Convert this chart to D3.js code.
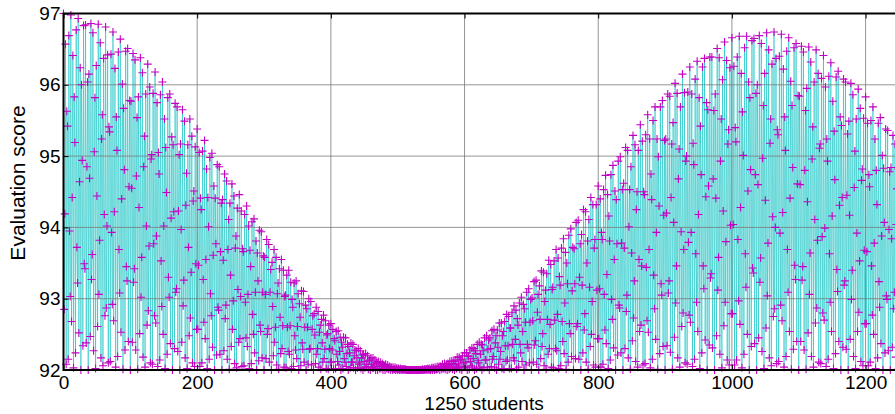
<!DOCTYPE html>
<html>
<head>
<meta charset="utf-8">
<script src="https://cdn.jsdelivr.net/npm/d3@7"></script>
<style>
  body { margin: 0; background: #fff; }
  text { font-family: "Liberation Sans", Arial, sans-serif; }
</style>
</head>
<body>
<svg id="chart" width="895" height="414"></svg>
<script>
// evaluation score of each of the 1250 students (rows of 10)
const scores = [
  97.00,92.85,94.19,96.57,92.08,95.63,95.42,92.15,96.69,93.95,
  93.03,96.98,92.68,94.42,96.41,92.03,95.83,95.19,92.24,96.77,
  93.72,93.22,96.93,92.52,94.64,96.24,92.00,96.00,94.94,92.34,
  96.83,93.49,93.42,96.84,92.38,94.85,96.04,92.00,96.15,94.69,
  92.47,96.86,93.27,93.62,96.73,92.27,95.06,95.82,92.02,96.27,
  94.44,92.61,96.85,93.06,93.82,96.59,92.17,95.24,95.58,92.06,
  96.37,94.18,92.76,96.81,92.87,94.02,96.42,92.10,95.41,95.34,
  92.12,96.43,93.93,92.92,96.74,92.69,94.22,96.23,92.04,95.55,
  95.08,92.19,96.46,93.69,93.08,96.64,92.53,94.40,96.01,92.01,
  95.67,94.81,92.28,96.47,93.45,93.25,96.51,92.40,94.57,95.78,
  92.00,95.77,94.55,92.39,96.44,93.23,93.42,96.35,92.28,94.72,
  95.54,92.01,95.83,94.28,92.51,96.38,93.02,93.58,96.17,92.18,
  94.85,95.28,92.04,95.87,94.02,92.63,96.29,92.83,93.74,95.97,
  92.10,94.96,95.02,92.08,95.88,93.77,92.76,96.18,92.66,93.88,
  95.75,92.05,95.05,94.75,92.14,95.86,93.53,92.89,96.04,92.50,
  94.02,95.52,92.02,95.12,94.49,92.22,95.82,93.30,93.02,95.87,
  92.37,94.13,95.27,92.00,95.16,94.22,92.30,95.74,93.09,93.14,
  95.69,92.26,94.23,95.02,92.00,95.17,93.97,92.39,95.65,92.90,
  93.26,95.49,92.17,94.31,94.76,92.02,95.16,93.72,92.48,95.52,
  92.73,93.37,95.28,92.10,94.37,94.51,92.05,95.13,93.49,92.57,
  95.38,92.57,93.47,95.05,92.05,94.41,94.25,92.10,95.07,93.27,
  92.67,95.22,92.44,93.55,94.82,92.02,94.42,94.01,92.15,94.98,
  93.07,92.76,95.04,92.32,93.61,94.58,92.00,94.41,93.77,92.21,
  94.88,92.88,92.84,94.85,92.22,93.66,94.34,92.00,94.39,93.54,
  92.27,94.75,92.72,92.91,94.65,92.15,93.69,94.11,92.01,94.34,
  93.33,92.33,94.61,92.57,92.97,94.44,92.09,93.71,93.88,92.03,
  94.27,93.13,92.39,94.46,92.44,93.03,94.23,92.05,93.70,93.66,
  92.06,94.18,92.95,92.45,94.30,92.33,93.06,94.02,92.02,93.68,
  93.45,92.09,94.08,92.78,92.50,94.12,92.24,93.09,93.81,92.00,
  93.64,93.25,92.13,93.96,92.63,92.54,93.94,92.17,93.09,93.60,
  92.00,93.58,93.06,92.16,93.83,92.50,92.58,93.76,92.11,93.09,
  93.41,92.00,93.51,92.89,92.20,93.69,92.39,92.60,93.58,92.07,
  93.07,93.22,92.01,93.42,92.74,92.23,93.55,92.30,92.62,93.40,
  92.04,93.03,93.05,92.03,93.33,92.60,92.26,93.40,92.22,92.62,
  93.23,92.02,92.99,92.88,92.05,93.22,92.48,92.28,93.25,92.16,
  92.61,93.07,92.00,92.93,92.74,92.06,93.11,92.38,92.29,93.10,
  92.11,92.60,92.91,92.00,92.86,92.60,92.08,93.00,92.29,92.30,
  92.96,92.07,92.57,92.76,92.00,92.79,92.49,92.09,92.88,92.22,
  92.30,92.82,92.04,92.53,92.63,92.01,92.71,92.38,92.11,92.77,
  92.16,92.29,92.69,92.02,92.49,92.51,92.01,92.63,92.30,92.11,
  92.65,92.11,92.28,92.57,92.01,92.44,92.41,92.02,92.54,92.22,
  92.12,92.55,92.07,92.26,92.46,92.00,92.39,92.32,92.02,92.46,
  92.16,92.11,92.45,92.05,92.23,92.36,92.00,92.33,92.24,92.03,
  92.38,92.11,92.11,92.36,92.03,92.20,92.28,92.00,92.27,92.17,
  92.03,92.30,92.08,92.10,92.27,92.02,92.17,92.21,92.00,92.22,
  92.12,92.03,92.23,92.05,92.08,92.20,92.01,92.13,92.14,92.00,
  92.17,92.08,92.03,92.17,92.03,92.07,92.14,92.00,92.10,92.10,
  92.00,92.12,92.05,92.02,92.11,92.02,92.05,92.09,92.00,92.07,
  92.06,92.00,92.08,92.03,92.02,92.07,92.01,92.03,92.05,92.00,
  92.04,92.03,92.00,92.04,92.01,92.01,92.04,92.00,92.02,92.02,
  92.00,92.02,92.01,92.00,92.02,92.00,92.01,92.01,92.00,92.01,
  92.01,92.00,92.01,92.00,92.00,92.00,92.00,92.00,92.00,92.00,
  92.00,92.00,92.00,92.00,92.00,92.00,92.00,92.00,92.00,92.00,
  92.00,92.00,92.00,92.00,92.00,92.00,92.00,92.01,92.00,92.00,
  92.01,92.00,92.01,92.01,92.00,92.02,92.01,92.00,92.02,92.00,
  92.01,92.03,92.00,92.03,92.02,92.00,92.04,92.01,92.01,92.05,
  92.01,92.03,92.05,92.00,92.05,92.04,92.01,92.08,92.02,92.03,
  92.09,92.01,92.06,92.08,92.00,92.09,92.06,92.01,92.12,92.03,
  92.05,92.13,92.01,92.09,92.12,92.00,92.14,92.08,92.02,92.18,
  92.04,92.07,92.18,92.01,92.14,92.15,92.00,92.20,92.10,92.04,
  92.24,92.04,92.11,92.24,92.00,92.20,92.19,92.01,92.28,92.12,
  92.06,92.31,92.04,92.16,92.30,92.00,92.27,92.23,92.02,92.36,
  92.13,92.10,92.39,92.04,92.22,92.36,92.00,92.35,92.27,92.03,
  92.45,92.14,92.14,92.48,92.04,92.29,92.42,92.00,92.45,92.30,
  92.05,92.55,92.15,92.19,92.57,92.03,92.38,92.48,92.00,92.56,
  92.32,92.08,92.66,92.15,92.26,92.66,92.02,92.48,92.54,92.01,
  92.68,92.34,92.12,92.78,92.14,92.34,92.75,92.02,92.59,92.59,
  92.02,92.81,92.36,92.17,92.90,92.13,92.43,92.84,92.01,92.72,
  92.63,92.04,92.94,92.36,92.24,93.02,92.12,92.54,92.92,92.00,
  92.86,92.67,92.07,93.09,92.36,92.31,93.14,92.10,92.67,92.99,
  92.00,93.01,92.69,92.11,93.24,92.35,92.41,93.26,92.08,92.81,
  93.06,92.00,93.18,92.71,92.16,93.39,92.33,92.51,93.37,92.06,
  92.96,93.12,92.01,93.35,92.71,92.22,93.54,92.30,92.64,93.48,
  92.04,93.13,93.16,92.03,93.53,92.70,92.30,93.69,92.27,92.78,
  93.57,92.02,93.31,93.19,92.06,93.71,92.68,92.40,93.84,92.23,
  92.94,93.65,92.01,93.50,93.21,92.11,93.89,92.65,92.51,93.98,
  92.19,93.11,93.72,92.00,93.70,93.21,92.16,94.07,92.61,92.65,
  94.10,92.15,93.30,93.77,92.00,93.90,93.19,92.24,94.25,92.56,
  92.79,94.22,92.11,93.50,93.81,92.01,94.11,93.16,92.33,94.42,
  92.50,92.96,94.32,92.07,93.71,93.83,92.04,94.32,93.12,92.44,
  94.58,92.44,93.14,94.40,92.04,93.93,93.83,92.08,94.53,93.06,
  92.56,94.73,92.37,93.34,94.46,92.02,94.16,93.81,92.14,94.74,
  92.99,92.71,94.87,92.31,93.55,94.51,92.00,94.39,93.77,92.21,
  94.93,92.91,92.87,94.99,92.24,93.78,94.53,92.00,94.62,93.71,
  92.30,95.12,92.82,93.05,95.08,92.17,94.01,94.53,92.01,94.85,
  93.64,92.41,95.29,92.73,93.25,95.16,92.12,94.25,94.50,92.04,
  95.08,93.55,92.54,95.44,92.63,93.46,95.21,92.07,94.50,94.46,
  92.09,95.30,93.44,92.69,95.58,92.53,93.69,95.24,92.03,94.75,
  94.39,92.15,95.50,93.33,92.86,95.69,92.43,93.93,95.24,92.01,
  94.99,94.30,92.23,95.69,93.21,93.05,95.78,92.33,94.17,95.22,
  92.00,95.24,94.20,92.34,95.87,93.08,93.25,95.84,92.25,94.42,
  95.17,92.01,95.47,94.07,92.46,96.02,92.94,93.46,95.88,92.17,
  94.68,95.10,92.04,95.69,93.94,92.61,96.15,92.80,93.69,95.89,
  92.10,94.93,95.00,92.08,95.90,93.79,92.77,96.25,92.67,93.93,
  95.87,92.05,95.18,94.88,92.15,96.08,93.63,92.95,96.33,92.54,
  94.18,95.82,92.02,95.42,94.74,92.24,96.25,93.46,93.14,96.37,
  92.42,94.43,95.75,92.00,95.65,94.58,92.35,96.39,93.29,93.35,
  96.39,92.31,94.68,95.64,92.00,95.87,94.41,92.48,96.51,93.12,
  93.58,96.38,92.22,94.93,95.52,92.03,96.07,94.23,92.62,96.60,
  92.95,93.80,96.34,92.14,95.17,95.37,92.07,96.24,94.03,92.79,
  96.66,92.79,94.04,96.26,92.07,95.40,95.20,92.14,96.39,93.83,
  92.97,96.68,92.64,94.28,96.16,92.03,95.62,95.01,92.22,96.52,
  93.63,93.16,96.68,92.50,94.51,96.04,92.00,95.82,94.81,92.33,
  96.62,93.43,93.36,96.65,92.37,94.74,95.88,92.00,96.00,94.60,
  92.45,96.69,93.23,93.57,96.58,92.26,94.97,95.71,92.02,96.16,
  94.38,92.59,96.73,93.04,93.78,96.49,92.17,95.18,95.52,92.06,
  96.29,94.15,92.75,96.74,92.86,94.00,96.37,92.09,95.37,95.30,
  92.12,96.40,93.92,92.91,96.71,92.69,94.21,96.22,92.04,95.55,
  95.08,92.19,96.47,93.69,93.09,96.66,92.54,94.41,96.05,92.01,
  95.71,94.84,92.29,96.52,93.47,93.27,96.58,92.40,94.61,95.85,
  92.00,95.84,94.60,92.40,96.54,93.26,93.45,96.46,92.28,94.80,
  95.64,92.01,95.95,94.36,92.52,96.53,93.06,93.64,96.32,92.19,
  94.96,95.41,92.04,96.04,94.11,92.66,96.49,92.87,93.82,96.16,
  92.11,95.11,95.17,92.09,96.09,93.87,92.80,96.41,92.70,93.99,
  95.97,92.05,95.24,94.93,92.15,96.12,93.63,92.95,96.31,92.54,
  94.16,95.77,92.02,95.35,94.67,92.23,96.11,93.41,93.10,96.19,
  92.40,94.31,95.55,92.00,95.43,94.42,92.32,96.08,93.19,93.25,
  96.04,92.29,94.45,95.31,92.00,95.49,94.17,92.43,96.02,92.99,
  93.40,95.86,92.19,94.56,95.07,92.02,95.52,93.92,92.54,95.94,
  92.81,93.53,95.67,92.12,94.66,94.82,92.06,95.53,93.68,92.65,
  95.83,92.65,93.66,95.46,92.06,94.74,94.57,92.11,95.50,93.46,
  92.77,95.69,92.50,93.78,95.24,92.02,94.80,94.32,92.17,95.46,
  93.24,92.88,95.54,92.37,93.88,95.01,92.00,94.83,94.07,92.24,
  95.38,93.04,92.99,95.36,92.27,93.97,94.78,92.00,94.84,93.84,
  92.32,95.29,92.86,93.09,95.17,92.18,94.04,94.54,92.01,94.82
]

const xTicks = [0, 200, 400, 600, 800, 1000, 1200]
const yTicks = [92, 93, 94, 95, 96, 97]
const xTitle = '1250 students'
const yTitle = 'Evaluation score'

const svg = d3.select('#chart')

// plot box (right edge falls just outside the window, like the original)
const padL = 63.5, padR = 899, padT = 13.5, padB = 370

const x = d3.scaleLinear().domain([0, 1250]).range([padL, padR])
const y = d3.scaleLinear().domain([92, 97]).range([padB, padT])

const points = scores.map((v, i) => ({ student: i, score: v }))

// score line, one segment per consecutive pair of students
const lineFn = d3.line()
    .x(d => x(d.student))
    .y(d => y(d.score))

svg.append('path')
    .datum(points)
    .attr('d', lineFn)
    .attr('fill', 'none')
    .attr('stroke', '#14c2c2')
    .attr('stroke-width', 0.6)

// grid
const grid = svg.append('g').attr('class', 'grid')
grid.selectAll('.gx')
    .data(xTicks.slice(1))
    .enter().append('line')
    .attr('x1', d => x(d)).attr('x2', d => x(d))
    .attr('y1', padT).attr('y2', padB)
grid.selectAll('.gy')
    .data(yTicks.slice(1, -1))
    .enter().append('line')
    .attr('x1', padL).attr('x2', padR)
    .attr('y1', d => y(d)).attr('y2', d => y(d))
grid.selectAll('line')
    .attr('stroke', '#7a7a7a')
    .attr('stroke-opacity', 0.8)
    .attr('stroke-width', 1)

// '+' markers
svg.append('g').selectAll('path')
    .data(points)
    .enter().append('path')
    .attr('d', d => {
        const px = x(d.student), py = y(d.score)
        return `M${px - 4},${py}h8M${px},${py - 4}v8`
    })
    .attr('stroke', '#c400c4')
    .attr('stroke-width', 1.1)
    .attr('fill', 'none')

// axes with inward ticks (matlab look)
svg.append('g')
    .attr('transform', `translate(0,${padB})`)
    .call(d3.axisBottom(x).tickValues(xTicks).tickFormat(d3.format('d'))
        .tickSizeInner(-5).tickSizeOuter(0).tickPadding(6))
svg.append('g')
    .attr('transform', `translate(0,${padT})`)
    .call(d3.axisTop(x).tickValues(xTicks).tickSizeInner(-5).tickSizeOuter(0).tickFormat(''))
svg.append('g')
    .attr('transform', `translate(${padL},0)`)
    .call(d3.axisLeft(y).tickValues(yTicks).tickFormat(d3.format('d'))
        .tickSizeInner(-5).tickSizeOuter(0).tickPadding(3))

svg.selectAll('.domain').remove()
svg.selectAll('.tick line').attr('stroke', '#000')
svg.selectAll('.tick text')
    .attr('fill', '#000')
    .style('font-size', '19px')

// frame
svg.append('rect')
    .attr('x', padL).attr('y', padT)
    .attr('width', padR - padL).attr('height', padB - padT)
    .attr('fill', 'none')
    .attr('stroke', '#000')
    .attr('stroke-width', 2)

svg.append('text')
    .attr('x', 484)
    .attr('y', 410)
    .attr('text-anchor', 'middle')
    .style('font-size', '19px')
    .text(xTitle)

svg.append('text')
    .attr('transform', 'translate(25,183) rotate(-90)')
    .attr('text-anchor', 'middle')
    .style('font-size', '21px')
    .text(yTitle)
</script>
</body>
</html>
